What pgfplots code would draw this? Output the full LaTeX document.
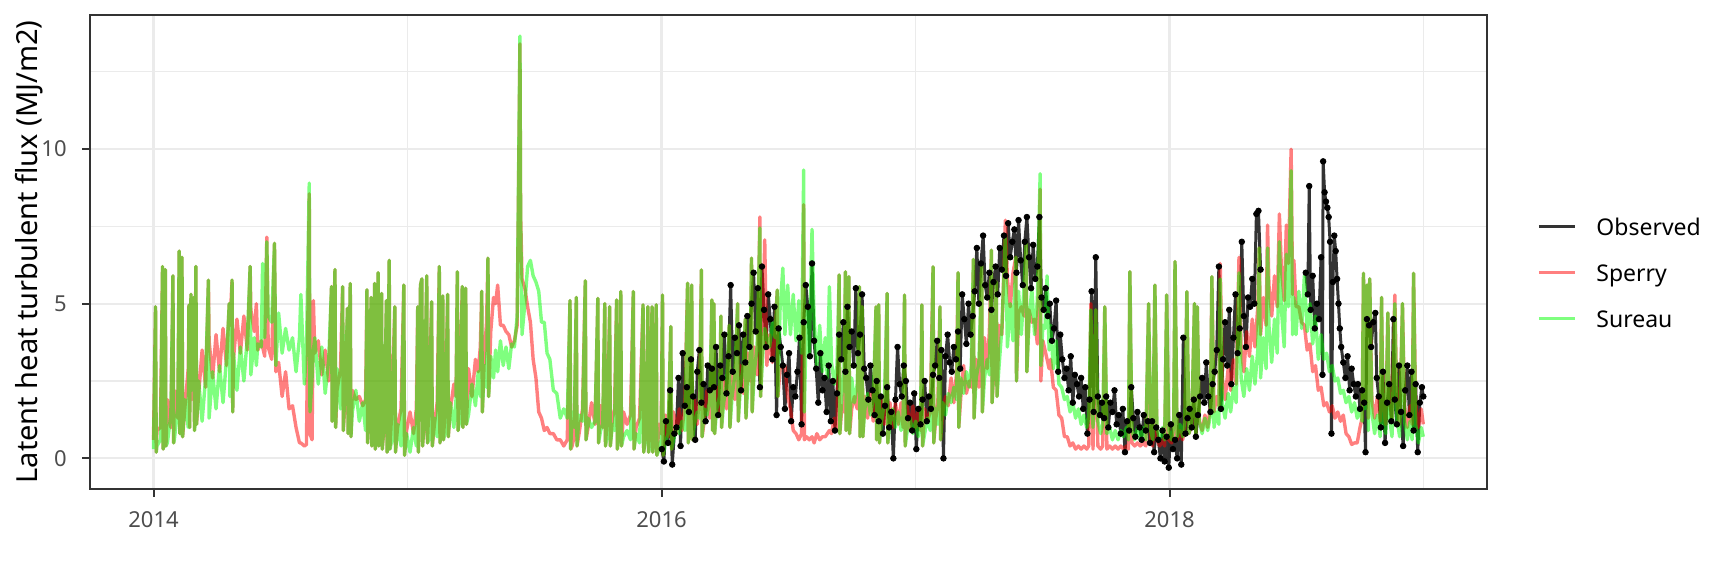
\documentclass[border=0pt]{standalone}
\usepackage{pgfplots}
\usepackage{pgfplotstable}
\pgfplotsset{compat=1.18}
\usepackage{fontspec}
\setmainfont{Noto Sans}
\definecolor{gridcol}{HTML}{EBEBEB}
\definecolor{ticklab}{HTML}{4D4D4D}
\definecolor{framecol}{HTML}{333333}

\pgfplotstableread{
d sp su
0 0.6 0.3
3 4.9 4.9
4 0.2 0.2
5 0.9 0.4
10 1.0 0.6
13 6.2 6.2
14 0.3 0.3
15 1.3 0.5
17 6.1 6.1
18 0.4 0.4
20 1.9 0.5
25 1.0 1.4
28 5.9 5.9
29 0.5 0.5
30 2.2 0.6
35 1.3 1.6
37 6.7 6.7
38 0.8 0.8
40 2.5 0.8
41 6.5 6.5
42 0.7 0.7
45 1.6 1.9
50 2.9 1.0
51 4.95 4.95
52 1.0 1.0
54 5.3 5.3
55 1.9 2.2
58 5.2 5.2
59 0.9 0.9
60 3.2 1.1
61 6.2 6.2
62 1.1 1.1
65 2.1 2.5
70 3.5 1.2
75 2.3 2.6
79 5.76 5.76
80 3.8 1.3
85 2.6 2.8
90 4.0 1.6
95 2.8 3.0
100 4.2 1.8
105 3.0 3.2
109 5.0 5.0
110 4.3 2.0
113 5.76 5.76
114 1.5 1.5
115 3.2 3.4
120 4.5 2.2
125 3.4 3.6
130 4.6 2.5
135 3.5 3.9
139 6.2 6.2
140 4.8 2.7
145 4.1 3.9
148 5.0 3.0
150 3.5 3.7
155 3.8 3.6
157 3.6 6.3
160 3.3 3.9
163 7.15 7.0
165 3.6 4.6
170 3.2 4.4
174 6.95 6.95
176 2.8 3.0
180 3.1 4.7
185 2.0 3.4
190 2.8 4.2
195 1.6 3.5
200 1.7 3.9
205 1.0 2.8
210 0.5 3.9
212 0.5 5.3
217 0.4 2.4
220 0.45 3.5
224 8.55 8.9
225 0.8 1.5
228 0.6 2.6
230 5.1 3.5
232 3.4 3.9
237 3.8 2.4
242 2.7 3.6
247 3.5 2.1
252 2.5 3.2
256 5.55 5.55
257 1.2 1.2
258 3.1 1.9
261 6.1 6.1
262 1.0 1.0
264 2.2 2.9
269 2.9 1.6
272 5.55 5.55
273 0.9 0.9
276 2.0 2.6
279 4.85 4.85
280 0.8 0.8
283 5.65 5.65
284 0.7 0.7
286 2.2 1.5
291 1.9 2.2
296 2.0 1.2
301 1.7 1.8
305 1.9 0.9
307 5.45 5.45
308 0.5 0.5
310 1.5 1.6
313 5.2 5.2
314 0.4 0.4
316 1.8 0.8
318 5.65 5.65
319 0.3 0.3
321 1.3 1.4
323 6.0 6.0
324 0.4 0.4
326 1.6 0.7
328 5.33 5.33
329 0.3 0.3
332 1.1 1.3
335 5.1 5.1
336 0.2 0.2
339 6.4 6.4
340 0.3 0.3
343 1.7 0.6
347 4.9 4.9
348 0.2 0.2
351 1.0 1.1
356 1.6 0.4
360 5.6 5.6
361 0.1 0.1
364 0.9 0.8
369 1.5 0.2
374 0.8 1.0
378 1.6 0.4
380 4.9 4.9
381 0.2 0.2
384 5.6 5.6
386 5.8 5.8
387 0.4 0.4
389 1.0 1.1
393 5.9 5.9
394 0.5 0.5
396 1.7 0.6
400 5.06 5.06
401 0.4 0.4
404 1.1 1.3
408 1.8 0.7
411 6.2 6.2
412 0.5 0.5
414 1.2 1.4
416 5.25 5.25
417 0.6 0.6
420 1.9 0.9
423 5.3 5.3
424 0.7 0.7
427 1.6 1.8
432 2.4 1.0
435 2.0 1.9
437 6.03 6.03
438 0.9 0.9
441 2.3 1.3
444 5.55 5.55
445 1.0 1.0
447 2.1 2.2
449 5.5 5.5
450 1.1 1.1
453 2.9 1.4
458 2.0 2.4
463 3.2 1.7
467 2.8 2.8
470 3.6 2.0
472 5.4 5.4
473 1.5 1.5
476 3.4 3.0
479 4.4 2.3
481 6.47 6.47
482 2.0 2.0
485 4.1 3.3
489 5.2 2.6
492 5.0 3.5
495 5.6 2.8
499 4.3 3.8
503 4.3 3.0
507 4.1 3.6
511 4.0 2.9
515 3.6 3.7
519 3.8 3.6
523 4.3 4.6
527 13.4 13.65
528 7.9 7.8
530 5.8 4.0
534 5.5 5.0
538 4.9 6.2
542 4.4 6.4
546 3.2 5.9
550 2.6 5.7
554 1.5 5.4
558 1.3 4.4
562 0.9 4.4
566 1.0 3.4
570 0.8 3.2
575 0.8 2.2
580 0.6 2.1
585 0.6 1.3
590 0.4 1.6
595 0.6 1.3
599 5.1 5.1
600 0.3 0.3
602 0.4 1.5
605 0.7 1.0
608 5.2 5.2
609 0.4 0.4
612 0.8 1.4
617 1.6 1.2
621 5.74 5.74
622 0.6 0.6
625 1.0 1.3
630 1.8 1.0
635 1.1 1.2
639 5.17 5.17
640 0.5 0.5
643 1.7 0.9
646 1.0 1.1
649 5.0 5.0
650 0.4 0.4
653 1.6 0.8
656 4.9 4.9
657 0.4 0.4
660 1.3 1.1
663 1.6 0.9
666 5.12 5.12
667 0.3 0.3
670 1.2 1.0
672 5.39 5.39
673 0.4 0.4
676 1.5 0.7
681 1.1 0.9
686 1.4 0.6
690 5.39 5.39
691 0.3 0.3
694 1.0 0.8
699 1.3 0.5
704 4.96 4.96
705 0.2 0.2
708 0.9 0.7
711 4.9 4.9
712 0.2 0.2
714 1.2 0.4
717 4.9 4.9
718 0.2 0.2
720 0.8 0.6
723 4.96 4.96
724 0.1 0.1
727 1.1 0.3
730 0.8 0.6
732 5.28 5.28
733 0.1 0.1
736 1.4 0.5
740 0.7 0.8
744 4.26 4.26
745 0.3 0.3
748 1.5 0.6
752 0.8 1.0
756 1.6 0.8
760 0.9 1.2
764 1.7 0.9
768 5.66 5.66
769 0.5 0.5
771 1.0 1.3
774 5.6 5.6
775 0.6 0.6
778 1.9 1.1
782 1.1 1.5
785 2.0 1.3
788 6.09 6.09
789 0.7 0.7
792 1.2 1.6
796 2.2 1.4
800 1.3 1.9
803 5.12 5.12
804 0.9 0.9
806 5.0 5.0
807 0.8 0.8
810 2.3 1.6
814 1.5 2.0
816 4.6 4.6
817 1.0 1.0
820 2.5 1.8
824 1.6 2.4
828 4.3 4.3
829 1.0 1.0
832 2.8 2.0
836 1.9 2.7
840 5.0 5.0
841 1.2 1.2
844 3.0 2.3
848 2.1 3.0
851 4.5 4.5
852 1.3 1.3
855 3.4 2.5
858 2.5 3.2
860 6.47 6.47
861 1.5 1.5
864 3.6 2.8
868 2.7 3.6
872 7.8 7.45
873 2.0 2.0
876 3.8 3.3
879 7.06 4.2
882 3.0 3.9
886 4.0 3.6
890 3.1 4.4
894 4.1 3.9
897 5.44 5.44
898 2.0 2.0
901 2.9 4.8
905 3.0 6.15
908 3.0 4.0
912 2.0 5.6
916 1.6 4.0
920 0.9 5.3
924 0.8 3.8
928 0.6 5.1
932 0.8 3.4
935 8.2 9.32
936 0.6 1.5
939 0.7 4.8
943 0.6 3.3
947 0.7 7.4
950 0.5 4.5
954 0.8 3.0
958 0.6 4.3
962 0.7 2.8
966 0.7 3.9
969 0.8 2.6
972 0.9 5.55
975 0.8 3.1
979 1.3 2.4
983 0.9 3.0
986 5.93 5.93
987 0.8 0.8
990 1.7 2.1
993 1.5 2.8
995 6.03 6.03
996 0.9 0.9
998 1.8 1.9
1000 5.87 5.87
1001 0.8 0.8
1004 1.6 2.6
1008 2.0 1.8
1012 1.6 2.4
1015 5.55 5.55
1016 0.7 0.7
1019 4.9 4.9
1020 0.7 0.7
1023 2.0 1.6
1027 1.3 2.1
1031 2.1 1.4
1035 1.2 1.9
1039 4.9 4.9
1040 0.6 0.6
1043 4.96 4.96
1044 0.5 0.5
1047 1.9 1.2
1051 1.1 1.8
1055 5.33 5.33
1056 0.5 0.5
1059 1.8 1.1
1063 1.0 1.6
1067 1.8 1.0
1071 1.1 1.5
1075 1.8 0.9
1078 1.0 1.4
1080 5.28 5.28
1081 0.4 0.4
1084 1.7 0.9
1088 0.9 1.3
1092 1.7 0.8
1096 1.0 1.2
1100 1.6 0.7
1103 0.9 1.2
1105 4.96 4.96
1106 0.4 0.4
1109 1.6 0.8
1113 1.2 1.3
1117 1.5 0.9
1121 6.19 6.19
1122 0.5 0.5
1125 1.3 1.6
1128 1.8 1.1
1131 4.9 4.9
1132 0.6 0.6
1135 1.5 1.8
1139 2.0 1.4
1143 1.7 2.1
1147 2.6 1.8
1151 1.8 2.3
1155 2.8 1.9
1157 6.0 6.0
1158 1.0 1.0
1161 2.0 2.6
1165 3.0 2.1
1169 2.1 2.8
1173 2.5 2.3
1176 2.3 3.0
1179 6.43 6.43
1180 1.3 1.3
1183 3.2 2.6
1187 2.3 3.1
1191 6.3 6.3
1192 1.5 1.5
1195 3.9 2.6
1199 2.9 3.2
1202 4.1 2.7
1205 6.73 6.73
1206 1.8 1.8
1209 3.1 3.4
1212 5.7 5.7
1213 2.0 2.0
1216 4.3 3.0
1220 4.0 4.2
1225 7.7 7.2
1228 5.8 3.6
1232 4.9 5.0
1236 6.0 3.8
1240 6.5 6.5
1241 2.5 2.5
1244 4.7 5.4
1248 4.9 4.0
1252 4.6 5.6
1255 7.0 7.0
1256 2.8 2.8
1259 4.8 4.4
1263 4.4 5.5
1267 4.5 4.0
1271 3.7 5.1
1275 8.7 9.2
1276 2.5 3.0
1279 3.8 4.3
1282 3.5 4.2
1285 3.2 5.9
1288 2.9 3.5
1290 3.2 4.3
1294 2.3 2.9
1298 2.2 3.8
1302 1.4 2.4
1306 1.3 2.3
1310 0.7 1.9
1314 0.7 2.0
1318 0.4 1.5
1322 0.5 1.8
1326 0.3 1.3
1330 0.4 1.6
1334 0.3 1.1
1338 0.4 1.4
1342 0.3 1.0
1345 0.4 1.3
1348 5.0 4.8
1351 0.3 1.0
1355 4.8 4.8
1358 0.4 1.2
1362 0.3 0.8
1365 0.4 1.1
1368 4.9 4.9
1371 0.3 0.8
1375 0.4 1.0
1379 0.3 0.6
1383 0.4 0.9
1387 0.3 0.6
1391 0.4 0.9
1395 0.3 0.7
1399 0.4 1.0
1402 0.3 0.6
1404 6.03 6.03
1407 0.5 0.9
1411 0.4 0.6
1415 0.5 1.0
1419 0.4 0.6
1423 0.5 1.0
1427 0.4 0.6
1431 5.0 5.0
1434 0.5 0.9
1437 0.4 0.6
1440 5.6 5.6
1443 0.6 1.0
1447 0.4 0.6
1451 0.6 1.0
1454 0.4 0.6
1457 5.28 5.28
1460 0.6 0.9
1464 0.5 0.6
1467 0.8 1.0
1469 6.36 6.36
1472 0.6 0.7
1476 0.9 1.1
1480 0.6 0.7
1483 1.0 1.2
1486 5.39 5.39
1489 0.8 0.8
1493 1.1 1.2
1497 5.0 5.0
1499 0.8 0.8
1501 4.9 4.9
1504 1.2 1.2
1508 0.9 0.8
1512 1.4 1.3
1516 1.0 0.9
1520 1.7 1.4
1522 5.87 5.87
1525 1.5 1.0
1529 2.0 1.5
1532 1.7 1.1
1534 6.3 5.8
1537 2.6 1.8
1541 1.9 1.3
1545 2.9 2.1
1549 2.2 1.5
1553 3.2 2.3
1557 2.4 1.8
1561 6.5 6.0
1564 3.6 2.6
1568 2.8 2.0
1572 4.1 2.9
1576 3.3 2.2
1580 4.5 3.3
1584 3.6 2.4
1588 4.9 3.5
1590 6.8 6.8
1592 4.0 2.6
1596 5.2 3.9
1600 4.3 2.9
1602 7.54 6.8
1604 5.6 4.3
1608 4.6 3.1
1612 5.9 4.5
1616 4.9 3.4
1619 7.9 7.0
1622 6.1 4.8
1626 5.1 3.6
1629 7.54 6.6
1632 6.3 4.9
1636 9.99 9.3
1638 5.3 4.0
1640 6.4 5.2
1643 4.9 4.0
1647 4.9 5.4
1651 4.4 4.2
1655 4.3 5.9
1659 3.5 4.1
1663 3.7 5.0
1667 2.8 3.7
1671 3.0 4.6
1675 2.2 3.2
1679 2.3 4.0
1683 1.7 3.2
1687 1.8 3.4
1691 1.5 2.8
1695 1.7 3.0
1699 1.3 2.5
1703 1.5 2.6
1707 1.2 2.1
1711 1.4 2.2
1715 0.8 1.8
1719 0.7 2.0
1723 0.45 1.5
1727 0.5 1.8
1731 0.5 1.3
1735 1.0 1.6
1738 1.3 1.2
1740 5.98 5.98
1742 1.9 1.6
1745 5.6 5.6
1747 1.3 0.9
1749 5.8 5.8
1752 1.9 1.5
1756 1.3 0.8
1760 2.0 1.4
1764 1.2 0.7
1766 5.2 5.2
1768 1.8 1.3
1772 1.1 0.8
1775 4.7 4.7
1777 1.9 1.4
1781 1.2 0.7
1785 5.28 5.0
1788 1.8 1.3
1792 1.1 0.7
1796 5.0 5.0
1799 1.7 1.2
1803 1.0 0.6
1807 1.7 1.2
1810 1.1 0.6
1812 5.98 5.98
1815 1.8 1.1
1819 1.0 0.5
1823 1.6 1.0
1826 1.1 0.7
}\models

\pgfplotstableread{
d v
731 0.3
734 -0.1
737 1.2
740 0.5
743 2.2
746 -0.2
749 0.8
752 1.0
755 2.6
758 0.4
761 3.4
764 1.7
767 2.3
770 1.5
773 3.2
776 2.0
779 0.6
782 2.8
785 3.5
788 1.8
791 2.4
794 1.2
797 3.0
800 2.2
803 2.9
806 2.3
809 3.6
812 1.4
815 3.0
818 2.6
821 4.0
824 2.1
827 3.3
830 5.6
833 2.8
836 3.9
839 3.4
842 4.3
845 2.2
848 4.0
851 3.1
854 4.6
857 3.6
860 5.0
863 6.0
866 4.1
869 5.5
872 2.3
875 6.2
878 4.8
881 3.6
884 5.3
887 4.5
890 3.2
893 4.9
896 1.4
899 4.2
902 3.6
905 3.0
908 1.6
911 2.7
914 3.4
917 1.2
920 2.3
923 2.0
926 2.8
929 3.9
932 1.1
935 4.4
938 5.6
941 4.9
944 3.3
947 6.3
950 3.8
953 2.9
956 1.8
959 3.4
962 2.2
965 2.6
968 1.5
971 3.0
974 1.2
977 2.5
980 0.9
983 2.1
986 4.0
989 3.2
992 4.4
995 2.8
998 4.9
1001 3.6
1004 4.1
1007 3.0
1010 5.5
1013 3.4
1016 4.0
1019 5.3
1022 2.9
1025 2.6
1028 1.9
1031 3.0
1034 2.2
1037 1.4
1040 2.5
1043 1.2
1046 2.0
1049 0.8
1052 1.7
1055 2.3
1058 1.0
1061 1.5
1064 0.0
1067 1.9
1070 3.6
1073 2.4
1076 2.0
1079 3.0
1082 2.5
1085 1.3
1088 1.8
1091 0.9
1094 2.1
1097 0.3
1100 1.6
1103 1.1
1106 1.9
1109 2.5
1112 1.2
1115 2.0
1118 1.6
1121 2.7
1124 3.0
1127 3.8
1130 2.6
1133 3.5
1136 0.0
1139 3.3
1142 4.0
1145 3.1
1148 2.8
1151 3.6
1154 3.2
1157 4.1
1160 2.9
1163 5.3
1166 4.5
1169 3.7
1172 5.0
1175 4.0
1178 4.6
1181 5.4
1184 6.8
1187 5.0
1190 6.3
1193 7.2
1196 5.6
1199 5.2
1202 6.0
1205 4.8
1208 5.7
1211 6.2
1214 5.3
1217 6.8
1220 6.1
1223 7.2
1226 5.9
1229 7.6
1232 6.5
1235 7.0
1238 7.4
1241 6.0
1244 7.7
1247 6.4
1250 5.6
1253 7.0
1256 7.8
1259 6.5
1262 5.5
1265 6.9
1268 5.8
1271 6.2
1274 7.8
1277 5.2
1280 4.8
1283 5.5
1286 4.6
1289 5.0
1292 3.8
1295 4.2
1298 5.1
1301 2.8
1304 4.0
1307 3.2
1310 2.6
1313 2.9
1316 2.2
1319 3.3
1322 1.8
1325 2.7
1328 2.4
1331 2.0
1334 2.6
1337 1.6
1340 2.3
1343 0.8
1346 1.9
1349 5.4
1352 1.5
1355 6.5
1358 2.0
1361 1.4
1364 1.8
1367 1.3
1370 2.0
1373 1.0
1376 1.8
1379 1.5
1382 2.2
1385 1.1
1388 1.4
1391 0.8
1394 1.6
1397 0.2
1400 1.2
1403 0.9
1406 2.3
1409 1.3
1412 0.7
1415 1.5
1418 1.0
1421 0.6
1424 1.4
1427 0.9
1430 1.2
1433 0.5
1436 1.2
1439 0.2
1442 1.0
1445 0.6
1448 0.0
1451 0.9
1454 -0.1
1457 0.7
1460 -0.3
1463 1.1
1466 0.3
1469 0.6
1472 0.0
1475 1.4
1478 -0.2
1481 3.9
1484 0.8
1487 1.3
1490 1.6
1493 1.0
1496 1.9
1499 0.7
1502 1.4
1505 2.0
1508 2.6
1511 1.8
1514 3.1
1517 2.0
1520 1.5
1523 2.4
1526 2.8
1529 3.5
1532 6.2
1535 1.6
1538 3.2
1541 4.4
1544 3.0
1547 4.8
1550 2.4
1553 3.9
1556 5.3
1559 3.4
1562 4.2
1565 7.0
1568 4.6
1571 3.6
1574 5.2
1577 4.9
1580 5.8
1583 5.0
1586 7.9
1589 8.0
1592 6.1
}\obsA

\pgfplotstableread{
d v
1657 6.0
1660 5.3
1662 8.8
1664 4.8
1667 5.9
1670 4.2
1673 5.0
1676 4.5
1679 6.5
1681 2.7
1682 9.6
1684 8.6
1686 8.3
1688 8.1
1690 7.8
1692 7.0
1694 0.8
1696 5.7
1698 7.2
1700 6.7
1702 5.8
1704 5.0
1706 4.2
1708 3.6
1711 3.1
1714 2.6
1717 3.3
1720 2.2
1723 2.9
1726 2.4
1729 2.0
1732 2.4
1735 1.6
1738 2.2
1741 1.8
1743 0.2
1745 4.5
1748 4.3
1751 3.6
1754 4.4
1757 4.7
1759 2.6
1762 2.0
1765 1.0
1768 2.8
1771 0.5
1774 1.8
1777 2.4
1780 1.2
1783 4.5
1785 1.9
1788 1.1
1791 3.0
1794 1.5
1797 0.4
1800 2.2
1803 3.0
1806 1.4
1809 2.8
1812 0.9
1815 2.4
1818 0.2
1821 1.8
1824 2.3
1826 2.0
}\obsB

\begin{document}
\begin{tikzpicture}
\path[use as bounding box] (0,0) rectangle (864bp,288bp);
\begin{axis}[
  at={(45bp,280.5bp)}, anchor=north west,
  scale only axis, width=698.5bp, height=236.85bp,
  xmin=2013.75, xmax=2019.25, ymin=-0.98, ymax=14.33,
  xtick={2014,2016,2018}, xticklabels={2014,2016,2018},
  minor xtick={2015,2017,2019},
  ytick={0,5,10}, yticklabels={0,5,10},
  minor ytick={2.5,7.5,12.5},
  xtick pos=bottom, ytick pos=left,
  grid=both,
  major grid style={draw=gridcol, line width=1.1bp},
  minor grid style={draw=gridcol, line width=0.6bp},
  tick align=outside, major tick length=4bp, minor tick length=0pt,
  tick style={draw=framecol, line width=1bp},
  axis line style={draw=framecol, line width=0.9bp},
  /pgf/number format/assume math mode=true,
  ticklabel style={font=\fontsize{11bp}{13bp}\selectfont, text=ticklab, inner sep=0pt},
  xticklabel style={anchor=north, yshift=-7.2bp},
  yticklabel style={anchor=east, xshift=-7.5bp},
  ylabel={Latent heat turbulent flux (MJ/m2)},
  ylabel style={at={(axis description cs:-0.0379,0.5)}, anchor=base, font=\fontsize{14.5bp}{17bp}\selectfont, inner sep=0pt},
  legend style={at={(axis description cs:1.0358,0.4554)}, anchor=west, draw=none, fill=none, inner sep=0pt, row sep=10.5bp, column sep=10bp, font=\fontsize{11.5bp}{14bp}\selectfont, text=black, nodes={inner sep=0pt, text height=10.5bp, text depth=2bp}},
  legend cell align=left,
  legend image code/.code={\draw[#1] (0bp,0bp) -- (18bp,0bp);},
]
\addplot[draw=black, draw opacity=0.8, line width=1.5bp, line join=round, forget plot] table[x expr=2014+\thisrow{d}/365.25, y=v] {\obsA};
\addplot[draw=black, draw opacity=0.8, line width=1.5bp, line join=round, forget plot] table[x expr=2014+\thisrow{d}/365.25, y=v] {\obsB};
\addplot[draw=red, draw opacity=0.5, line width=1.7bp, line join=round, forget plot] table[x expr=2014+\thisrow{d}/365.25, y=sp] {\models};
\addplot[draw=green, draw opacity=0.5, line width=1.7bp, line join=round, forget plot] table[x expr=2014+\thisrow{d}/365.25, y=su] {\models};
\addplot[only marks, mark=*, mark size=1.4bp, mark options={fill=black, draw=none}, forget plot] table[x expr=2014+\thisrow{d}/365.25, y=v] {\obsA};
\addplot[only marks, mark=*, mark size=1.4bp, mark options={fill=black, draw=none}, forget plot] table[x expr=2014+\thisrow{d}/365.25, y=v] {\obsB};
\addlegendimage{draw=black, draw opacity=0.8, line width=1.5bp}
\addlegendentry{Observed}
\addlegendimage{draw=red, draw opacity=0.5, line width=1.5bp}
\addlegendentry{Sperry}
\addlegendimage{draw=green, draw opacity=0.5, line width=1.5bp}
\addlegendentry{Sureau}
\end{axis}
\end{tikzpicture}
\end{document}
